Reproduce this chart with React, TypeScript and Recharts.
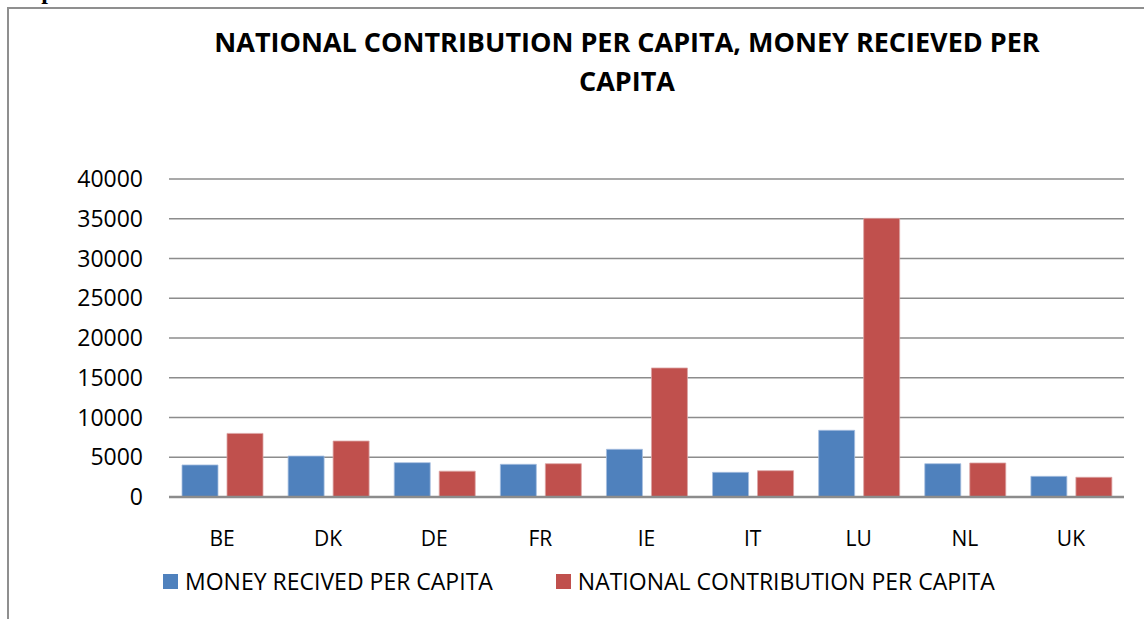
import React from "react";
import { BarChart, Bar, XAxis, YAxis, CartesianGrid } from "recharts";

const countries = ["BE", "DK", "DE", "FR", "IE", "IT", "LU", "NL", "UK"];
const moneyReceived = [4030, 5150, 4320, 4110, 6000, 3100, 8390, 4190, 2600];
const nationalContribution = [8000, 7040, 3250, 4190, 16230, 3310, 35050, 4280, 2480];
const yTicks = [0, 5000, 10000, 15000, 20000, 25000, 30000, 35000, 40000];
const seriesNames = ["MONEY RECIVED PER CAPITA", "NATIONAL CONTRIBUTION PER CAPITA"];
const seriesColors = ["#4F81BD", "#C0504D"];

const data = countries.map((c, i) => ({
    country: c,
    money: moneyReceived[i],
    contribution: nationalContribution[i],
}));

const font = "'Open Sans', sans-serif";

export default function App() {
    return (
        <div style={{
            position: "fixed",
            left: 0,
            top: 0,
            width: 1144,
            height: 619,
            overflow: "hidden",
            background: "#fff",
        }}>
            {/* caption above the frame, mostly cut off */}
            <div style={{
                position: "absolute",
                left: 0,
                top: -21,
                fontFamily: "'Liberation Serif', serif",
                fontWeight: "bold",
                fontSize: 24,
                lineHeight: "24px",
                color: "#000",
                whiteSpace: "nowrap",
            }}>
                Graph 1:
            </div>
            <div style={{
                position: "absolute",
                left: 7,
                top: 7,
                width: 1300,
                height: 700,
                borderTop: "2px solid #8f8f8f",
                borderLeft: "2px solid #8f8f8f",
            }} />
            <div style={{
                position: "absolute",
                left: 627 - 480,
                top: 22,
                width: 960,
                textAlign: "center",
                fontFamily: font,
                fontWeight: 700,
                fontSize: 27,
                lineHeight: "39px",
                color: "#000",
            }}>
                NATIONAL CONTRIBUTION PER CAPITA, MONEY RECIEVED PER<br />CAPITA
            </div>
            <div style={{ position: "absolute", left: 0, top: 0 }}>
                <BarChart
                    width={1144}
                    height={619}
                    data={data}
                    margin={{ top: 179, right: 20, bottom: 62, left: 0 }}
                    barCategoryGap={13}
                    barGap={9}
                >
                    <CartesianGrid vertical={false} stroke="#8c8c8c" strokeWidth={1.5} />
                    <XAxis
                        dataKey="country"
                        height={60}
                        tickSize={0}
                        tickMargin={34}
                        axisLine={{ stroke: "#8c8c8c", strokeWidth: 2.5 }}
                        tickLine={false}
                        tick={{ fontSize: 21, fill: "#000", fontFamily: font }}
                    />
                    <YAxis
                        width={169}
                        domain={[0, 40000]}
                        ticks={yTicks}
                        interval={0}
                        tickSize={0}
                        tickMargin={26}
                        axisLine={false}
                        tickLine={false}
                        tick={{ fontSize: 23, fill: "#000", fontFamily: font }}
                    />
                    <Bar dataKey="money" name={seriesNames[0]} fill={seriesColors[0]} stroke="#a7bfdf" strokeWidth={0.8} isAnimationActive={false} />
                    <Bar dataKey="contribution" name={seriesNames[1]} fill={seriesColors[1]} stroke="#dca5a4" strokeWidth={0.8} isAnimationActive={false} />
                </BarChart>
            </div>
            <div style={{
                position: "absolute",
                left: 163,
                top: 565,
                display: "flex",
                alignItems: "center",
                fontFamily: font,
                fontSize: 23,
                color: "#000",
                whiteSpace: "nowrap",
            }}>
                {seriesNames.map((name, i) => (
                    <div key={name} style={{ display: "flex", alignItems: "center", marginRight: i === 0 ? 63 : 0 }}>
                        <span style={{ display: "inline-block", width: 15, height: 15, background: seriesColors[i], marginRight: 7 }} />
                        <span>{name}</span>
                    </div>
                ))}
            </div>
        </div>
    );
}
